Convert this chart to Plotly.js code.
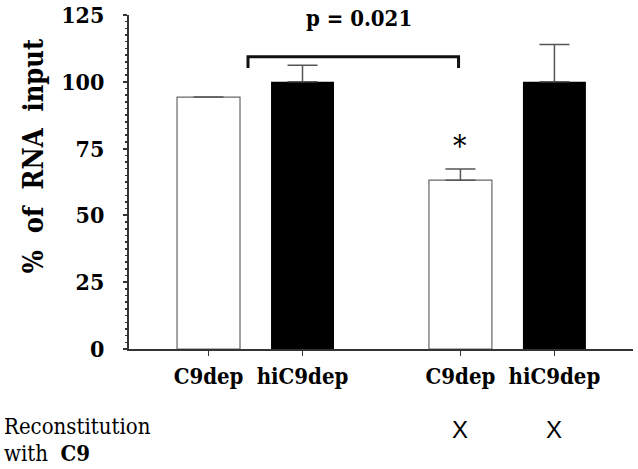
<!DOCTYPE html>
<html>
<head>
<meta charset="utf-8">
<script src="https://cdn.plot.ly/plotly-3.0.1.min.js"></script>
<style>
  html, body { margin: 0; padding: 0; background: #fff; }
  #chart { width: 638px; height: 469px; }
</style>
</head>
<body>
<div id="chart"></div>
<script>
// data
const positions = [0, 1, 2.68, 3.68];
const labels = ['C9dep', 'hiC9dep', 'C9dep', 'hiC9dep'];
const yTicks = [0, 25, 50, 75, 100, 125];

const openX = [0, 2.68];
const openY = [94.3, 63.2];
const openErr = [0, 4.2];

const filledX = [1, 3.68];
const filledY = [100, 100];
const filledErr = [6.2, 14.0];

const reconstitutedX = [2.68, 3.68];   // bars marked with an "X" below the axis

// significance bracket
const bracketX = [0.42, 2.66];
const bracketY = [105.2, 109.4];
const pText = 'p = 0.021';

// Times-like serif isn't available here, condensed DejaVu Serif is the closest
const serif = '"DejaVu Serif Condensed", "DejaVu Serif", serif';
const sans = '"Liberation Sans", Arial, sans-serif';

const bold = function (s) { return '<b>' + s + '</b>'; };

const openTrace = {
    type: 'bar',
    x: openX,
    y: openY,
    width: 0.67,
    marker: { color: '#fff', line: { color: '#666', width: 1.2 } },
    error_y: {
        type: 'data', symmetric: false, array: openErr, arrayminus: [0, 0],
        color: '#555', thickness: 1.5, width: 15
    },
    hoverinfo: 'y'
};

const filledTrace = {
    type: 'bar',
    x: filledX,
    y: filledY,
    width: 0.67,
    marker: { color: '#000', line: { color: '#000', width: 0 } },
    error_y: {
        type: 'data', symmetric: false, array: filledErr, arrayminus: [0, 0],
        color: '#555', thickness: 1.5, width: 15
    },
    hoverinfo: 'y'
};

const annotations = [
    {
        // y axis title, placed by hand since it sits above the plot centre
        x: -0.188, y: 0.578, xref: 'paper', yref: 'paper',
        text: bold('%  of  RNA  input'), textangle: -90, showarrow: false,
        xanchor: 'center', yanchor: 'middle',
        font: { family: serif, size: 27, color: '#000' }
    },
    {
        x: (bracketX[0] + bracketX[1]) / 2 + 0.06, y: 124, xref: 'x', yref: 'y',
        text: bold(pText), showarrow: false, yanchor: 'middle',
        font: { family: serif, size: 22, color: '#000' }
    },
    {
        x: openX[1], y: 76, xref: 'x', yref: 'y',
        text: '*', showarrow: false, yanchor: 'middle',
        font: { family: serif, size: 30, color: '#000' }
    },
    {
        x: -0.252, y: -0.233, xref: 'paper', yref: 'paper',
        text: 'Reconstitution', showarrow: false, xanchor: 'left', yanchor: 'middle',
        font: { family: serif, size: 22, color: '#000' }
    },
    {
        x: -0.252, y: -0.31, xref: 'paper', yref: 'paper',
        text: 'with  ' + bold('C9'), showarrow: false, xanchor: 'left', yanchor: 'middle',
        font: { family: serif, size: 22, color: '#000' }
    }
];

reconstitutedX.forEach(function (xv) {
    annotations.push({
        x: xv, y: -0.24, xref: 'x', yref: 'paper',
        text: 'X', showarrow: false, yanchor: 'middle',
        font: { family: sans, size: 24, color: '#000' }
    });
});

const layout = {
    width: 638,
    height: 469,
    margin: { l: 129, r: 5, t: 15, b: 120 },
    paper_bgcolor: '#fff',
    plot_bgcolor: '#fff',
    showlegend: false,
    barmode: 'overlay',
    font: { family: serif },
    xaxis: {
        range: [-0.846, 4.516],
        tickmode: 'array',
        tickvals: positions,
        ticktext: labels.map(bold),
        ticks: 'outside', ticklen: 5, tickwidth: 1.5, tickcolor: '#333',
        showline: true, linecolor: '#333', linewidth: 2,
        showgrid: false, zeroline: false,
        tickfont: { family: serif, size: 22, color: '#000' },
        ticklabelstandoff: 2
    },
    yaxis: {
        range: [0, 125],
        tickmode: 'array',
        tickvals: yTicks,
        ticktext: yTicks.map(function (v) { return bold(String(v)); }),
        ticks: 'outside', ticklen: 4, tickwidth: 2, tickcolor: '#333',
        minor: { tickmode: 'linear', tick0: 0, dtick: 2.5, ticks: 'outside', ticklen: 2, tickwidth: 1.5, tickcolor: '#333' },
        showline: true, linecolor: '#333', linewidth: 2,
        showgrid: false, zeroline: false,
        tickfont: { family: serif, size: 23, color: '#000' },
        ticklabelstandoff: 14
    },
    shapes: [{
        type: 'path', xref: 'x', yref: 'y',
        path: 'M ' + bracketX[0] + ',' + bracketY[0] +
              ' L ' + bracketX[0] + ',' + bracketY[1] +
              ' L ' + bracketX[1] + ',' + bracketY[1] +
              ' L ' + bracketX[1] + ',' + bracketY[0],
        line: { color: '#111', width: 3 }
    }],
    annotations: annotations
};

Plotly.newPlot('chart', [openTrace, filledTrace], layout, { displayModeBar: false, staticPlot: true });
</script>
</body>
</html>
